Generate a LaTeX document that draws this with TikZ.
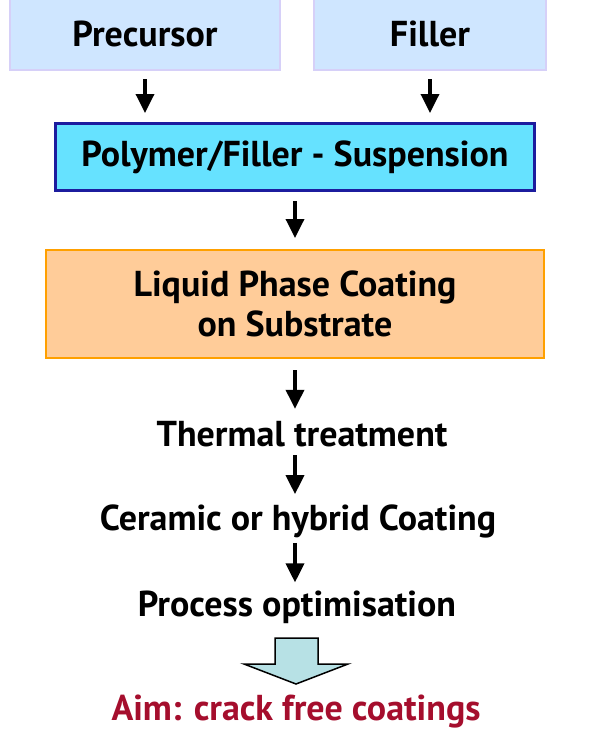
\documentclass[tikz,border=0pt]{standalone}
\usepackage{fontspec}
\setmainfont{PT Sans}
\usepackage{xcolor}
\usepackage{tikz}
\usetikzlibrary{arrows.meta}
\definecolor{AzulClaro}{RGB}{207,230,255}
\definecolor{BordeLila}{RGB}{214,208,248}
\definecolor{Cian}{RGB}{102,226,255}
\definecolor{AzulOscuro}{RGB}{28,28,158}
\definecolor{Naranja}{RGB}{255,204,153}
\definecolor{BordeNaranja}{RGB}{255,160,0}
\definecolor{Turquesa}{RGB}{183,225,229}
\definecolor{RojoMeta}{RGB}{165,14,45}

\begin{document}
\begin{tikzpicture}[x=1pt,y=-1pt,>={Triangle[width=18pt,length=19pt]},
  font=\fontsize{36}{40}\selectfont\bfseries,
  caja/.style={draw,line width=2pt,inner sep=0pt,align=center},
  flecha/.style={->,line width=3.5pt},
  paso/.style={inner sep=0pt,minimum height=30pt}]
  \useasboundingbox (0,0) rectangle (591,753);

  \node[caja,fill=AzulClaro,draw=BordeLila,minimum width=270pt,minimum height=72pt] (prec) at (145,34) {Precursor};
  \node[caja,fill=AzulClaro,draw=BordeLila,minimum width=232pt,minimum height=72pt] (fill) at (430,34) {Filler};
  \node[caja,fill=Cian,draw=AzulOscuro,line width=3pt,minimum width=479pt,minimum height=67pt] (susp) at (295,157) {Polymer/Filler - Suspension};
  \node[caja,fill=Naranja,draw=BordeNaranja,minimum width=498pt,minimum height=108pt] (coat) at (295,304) {Liquid Phase Coating\\on Substrate};
  \node[paso] (term) at (302,434) {Thermal treatment};
  \node[paso] (cera) at (298,521) {Ceramic or hybrid Coating};
  \node[paso] (opti) at (297,607) {Process optimisation};
  \node[paso,text=RojoMeta] (aim) at (296,712) {Aim: crack free coatings};

  \draw[flecha,shorten <=8pt,shorten >=9pt] (prec.south) -- (prec.south |- susp.north);
  \draw[flecha,shorten <=8pt,shorten >=9pt] (fill.south) -- (fill.south |- susp.north);
  \draw[flecha,shorten <=9pt,shorten >=11pt] (susp.south) -- (coat.north);
  \draw[flecha,shorten <=11pt,shorten >=10pt] (coat.south) -- (coat.south |- term.north);
  \draw[flecha,shorten <=6pt,shorten >=10pt] (coat.south |- term.south) -- (coat.south |- cera.north);
  \draw[flecha,shorten <=5pt,shorten >=8pt] (coat.south |- cera.south) -- (coat.south |- opti.north);

  % block arrow
  \draw[fill=Turquesa,line width=1.5pt,line join=miter]
    (275,638) -- (318,638) -- (318,664) -- (348,664) -- (296,684)
    -- (244,664) -- (275,664) -- cycle;
\end{tikzpicture}
\end{document}
